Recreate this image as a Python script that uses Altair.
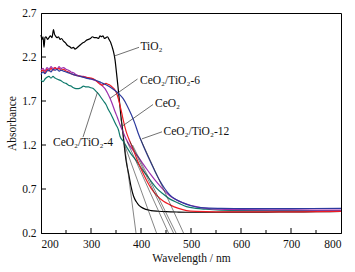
import altair as alt
import pandas as pd

# ---------------- data ----------------
nm_tio2 = [200,202,204,206,208,210,213,216,219,222,225,227,229,232,235,238,241,245,249,253,257,261,265,268,271,275,279,283,287,291,295,299,303,307,311,315,318,321,324,327,330,333,336,339,342,345,348,351,354,357,360,363,366,370,375,380,385,390,395,400,410,420,435,450,475,500,550,600,650,700,750,800]
abs_tio2 = [2.45,2.40,2.43,2.31,2.42,2.43,2.40,2.42,2.44,2.42,2.51,2.46,2.44,2.42,2.43,2.40,2.41,2.38,2.36,2.33,2.32,2.30,2.31,2.29,2.30,2.32,2.34,2.36,2.37,2.39,2.40,2.41,2.43,2.42,2.42,2.41,2.44,2.43,2.44,2.41,2.42,2.43,2.40,2.37,2.32,2.26,2.17,2.02,1.86,1.69,1.52,1.38,1.22,1.03,0.88,0.73,0.62,0.56,0.52,0.495,0.468,0.455,0.447,0.442,0.438,0.436,0.436,0.437,0.438,0.44,0.442,0.445]

nm_ct4 = [200,204,208,212,216,220,224,228,232,236,240,245,250,255,260,265,270,275,280,285,290,295,300,305,310,315,320,325,330,335,340,345,350,355,358,365,372,380,391,400,411,420,431,445,458,475,491,510,530,560,600,650,700,750,800]
abs_ct4 = [1.94,1.92,1.95,1.97,1.98,1.96,1.98,1.96,1.95,1.94,1.93,1.91,1.90,1.88,1.87,1.85,1.84,1.84,1.85,1.87,1.86,1.86,1.85,1.84,1.81,1.78,1.74,1.70,1.66,1.60,1.55,1.49,1.43,1.37,1.30,1.24,1.17,1.10,1.02,0.94,0.86,0.79,0.71,0.64,0.585,0.54,0.50,0.48,0.47,0.46,0.455,0.455,0.455,0.455,0.455]

nm_ct6 = [200,204,208,212,216,220,224,228,232,236,240,245,250,255,260,265,270,275,280,285,290,295,300,305,310,318,323,328,333,338,343,348,353,358,364,370,378,391,400,411,420,431,445,458,475,491,510,531,560,600,700,800]
abs_ct6 = [2.05,2.07,2.04,2.08,2.06,2.09,2.07,2.08,2.06,2.09,2.07,2.08,2.06,2.05,2.03,2.02,2.00,1.99,1.98,1.98,1.97,1.96,1.95,1.94,1.93,1.90,1.87,1.84,1.79,1.73,1.66,1.58,1.51,1.43,1.35,1.27,1.19,1.09,1.02,0.93,0.86,0.78,0.69,0.62,0.565,0.53,0.50,0.48,0.47,0.465,0.462,0.46]

nm_ceo2 = [200,204,208,212,216,220,224,228,232,236,240,245,250,255,260,265,270,280,290,300,308,314,318,322,326,330,334,338,342,346,351,355,358,362,365,368,371,375,380,385,391,400,411,420,431,445,458,475,491,510,550,600,700,800]
abs_ceo2 = [2.03,2.05,2.02,2.06,2.04,2.07,2.05,2.08,2.06,2.07,2.05,2.06,2.04,2.03,2.01,2.00,1.99,1.98,1.97,1.96,1.94,1.91,1.89,1.88,1.89,1.90,1.89,1.88,1.86,1.84,1.79,1.72,1.65,1.55,1.47,1.40,1.34,1.28,1.21,1.14,1.05,0.93,0.80,0.71,0.63,0.56,0.52,0.48,0.455,0.445,0.44,0.44,0.44,0.445]

nm_ct12 = [200,204,208,212,216,220,224,228,232,236,240,245,250,255,260,265,270,278,290,300,312,320,328,338,348,356,364,372,381,388,394,401,410,418,428,438,448,458,470,485,500,525,560,600,700,800]
abs_ct12 = [2.00,2.03,2.01,2.04,2.05,2.03,2.06,2.05,2.06,2.04,2.05,2.04,2.03,2.02,2.01,2.00,1.99,1.98,1.96,1.95,1.93,1.91,1.89,1.86,1.82,1.78,1.73,1.65,1.54,1.44,1.34,1.24,1.12,1.02,0.90,0.79,0.70,0.63,0.58,0.54,0.51,0.485,0.48,0.478,0.478,0.48]

series_names = ["TiO2", "CeO2/TiO2-4", "CeO2/TiO2-6", "CeO2", "CeO2/TiO2-12"]
series_colors = ["#000000", "#0f7a6c", "#9c2fae", "#ee1c24", "#2c3a9e"]

# tangent (extrapolation) lines: start point and x-intercept
tan_x1 = [360, 366, 372, 378, 383, 398]
tan_y1 = [1.50, 1.22, 1.24, 1.24, 1.20, 1.28]
tan_x2 = [390, 431, 455, 465, 470, 485]
tan_y2 = [0.2, 0.2, 0.2, 0.2, 0.2, 0.2]

# labels and leader lines
lab_text = ["TiO₂", "CeO₂/TiO₂-6", "CeO₂", "CeO₂/TiO₂-12", "CeO₂/TiO₂-4"]
lab_x = [399, 398, 428, 445, 224]
lab_y = [2.31, 1.93, 1.67, 1.35, 1.22]
lead_x1 = [346, 338, 364, 402, 284]
lead_y1 = [2.21, 1.73, 1.42, 1.27, 1.29]
lead_x2 = [396, 393, 424, 442, 313]
lead_y2 = [2.31, 1.95, 1.66, 1.35, 1.80]

x_major = [200, 300, 400, 500, 600, 700, 800]
x_inner_major = [300, 400, 500, 600, 700]
x_minor = [250, 350, 450, 550, 650, 750]
y_major = [0.2, 0.7, 1.2, 1.7, 2.2, 2.7]
y_inner = [0.7, 1.2, 1.7, 2.2]

# ---------------- build tables ----------------
rows = []
for name, xs, ys in zip(series_names,
                        [nm_tio2, nm_ct4, nm_ct6, nm_ceo2, nm_ct12],
                        [abs_tio2, abs_ct4, abs_ct6, abs_ceo2, abs_ct12]):
    for i, (a, b) in enumerate(zip(xs, ys)):
        rows.append({"series": name, "nm": a, "A": b, "idx": i})
curves = pd.DataFrame(rows)

tangents = pd.DataFrame({"x": tan_x1, "y": tan_y1, "x2": tan_x2, "y2": tan_y2})
labels = pd.DataFrame({"t": lab_text, "x": lab_x, "y": lab_y})
leaders = pd.DataFrame({"x": lead_x1, "y": lead_y1, "x2": lead_x2, "y2": lead_y2})

W, H = 300, 220
FONT = "Liberation Serif"

xscale = alt.Scale(domain=[200, 800], nice=False, zero=False)
yscale = alt.Scale(domain=[0.2, 2.7], nice=False, zero=False)

xaxis = alt.Axis(values=x_major, ticks=False, grid=False, title="Wavelength / nm",
                 labelPadding=5, titlePadding=3, format="d",
                 labelFont=FONT, labelFontSize=11.5, labelColor="#111111",
                 titleFont=FONT, titleFontSize=11.5, titleFontWeight="normal", titleColor="#111111",
                 domainColor="black", domainWidth=1)
yaxis = alt.Axis(values=y_major, ticks=False, grid=False, title="Absorbance",
                 labelPadding=5, titlePadding=4, format=".1f",
                 labelFont=FONT, labelFontSize=11.5, labelColor="#111111",
                 titleFont=FONT, titleFontSize=11.5, titleFontWeight="normal", titleColor="#111111",
                 domainColor="black", domainWidth=1)

lines = alt.Chart(curves).mark_line(strokeWidth=1.2, interpolate="monotone").encode(
    x=alt.X("nm:Q", scale=xscale, axis=xaxis),
    y=alt.Y("A:Q", scale=yscale, axis=yaxis),
    color=alt.Color("series:N", scale=alt.Scale(domain=series_names, range=series_colors), legend=None),
    detail="series:N",
    order="idx:Q",
)

tan_layer = alt.Chart(tangents).mark_rule(color="#333333", strokeWidth=0.6).encode(
    x="x:Q", y="y:Q", x2="x2:Q", y2="y2:Q")

lead_layer = alt.Chart(leaders).mark_rule(color="#333333", strokeWidth=0.7).encode(
    x="x:Q", y="y:Q", x2="x2:Q", y2="y2:Q")

text_layer = alt.Chart(labels).mark_text(align="left", baseline="middle", font=FONT,
                                         fontSize=11.5, color="#111111").encode(
    x="x:Q", y="y:Q", text="t:N")

xt_major = alt.Chart(pd.DataFrame({"v": x_inner_major})).mark_rule(color="black", strokeWidth=1).encode(
    x="v:Q", y=alt.value(H), y2=alt.value(H - 5))
xt_minor = alt.Chart(pd.DataFrame({"v": x_minor})).mark_rule(color="black", strokeWidth=1).encode(
    x="v:Q", y=alt.value(H), y2=alt.value(H - 3))
yt_major = alt.Chart(pd.DataFrame({"v": y_inner})).mark_rule(color="black", strokeWidth=1).encode(
    y="v:Q", x=alt.value(0), x2=alt.value(5))

chart = alt.layer(lines, tan_layer, lead_layer, text_layer, xt_major, xt_minor, yt_major).properties(
    width=W, height=H,
    autosize=alt.AutoSizeParams(type="none"),
    padding={"left": 41, "top": 13, "right": 14, "bottom": 39},
    background="white",
).configure_view(
    stroke="black", strokeWidth=1
)

chart.save("out.html", embed_options={"renderer": "svg", "actions": False})
